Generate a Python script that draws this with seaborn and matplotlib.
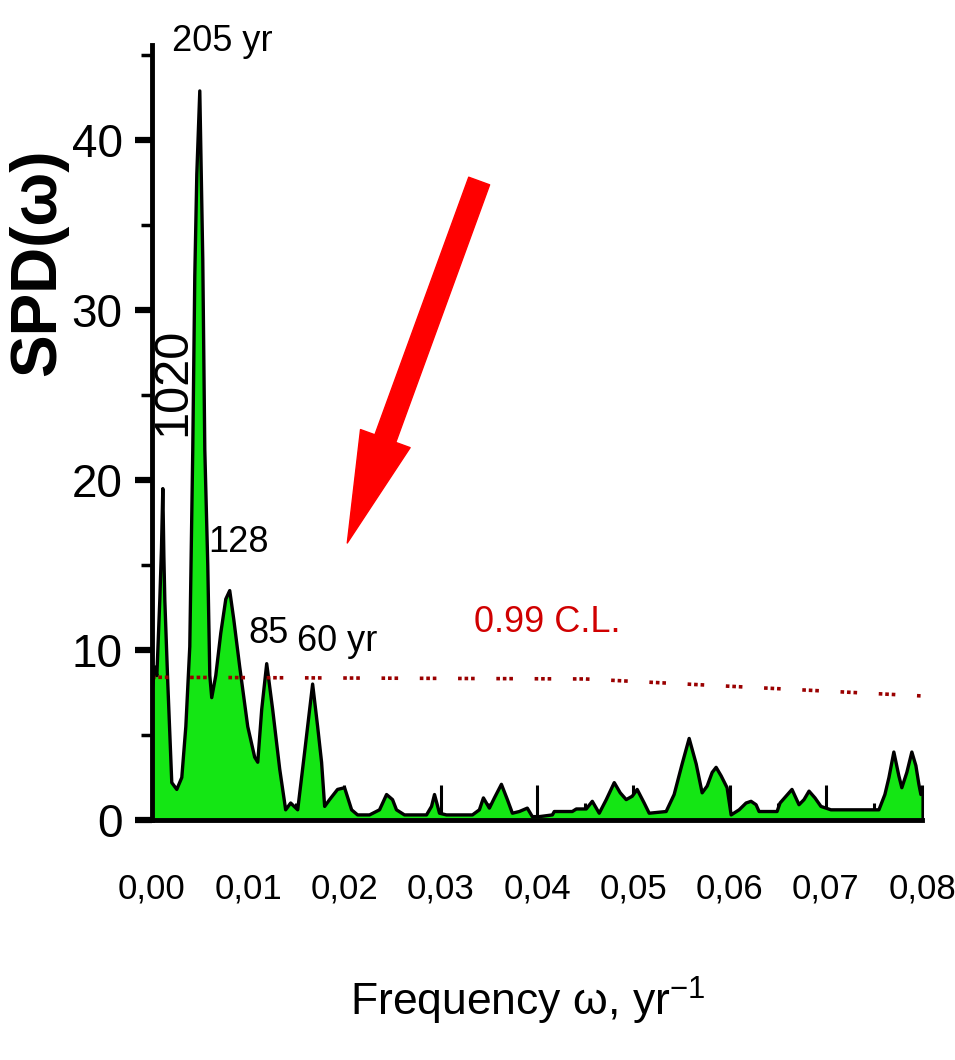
import numpy as np
import pandas as pd
import seaborn as sns
import matplotlib.pyplot as plt
from matplotlib.ticker import MultipleLocator, FuncFormatter

# spectral density
freq = [0.0, 0.00031, 0.00052, 0.00083, 0.00100, 0.00114, 0.00125, 0.00135, 0.00166, 0.00207,
        0.00259, 0.00311, 0.00353, 0.00394, 0.00425, 0.00446, 0.00467, 0.00498, 0.00529, 0.00550,
        0.00581, 0.00602, 0.00622, 0.00664, 0.00716, 0.00768, 0.00809, 0.00851, 0.00913, 0.00996,
        0.01068, 0.01100, 0.01141, 0.01193, 0.01255, 0.01328, 0.01390, 0.01442, 0.01515, 0.01587,
        0.01670, 0.01722, 0.01763, 0.01795, 0.01846, 0.01929, 0.02002, 0.02075, 0.02137, 0.02261,
        0.02365, 0.02438, 0.02500, 0.02541, 0.02624, 0.02853, 0.02905, 0.02936, 0.02988, 0.03060,
        0.03330, 0.03402, 0.03444, 0.03506, 0.03558, 0.03631, 0.03693, 0.03745, 0.03817, 0.03900,
        0.03952, 0.04025, 0.04160, 0.04180, 0.04367, 0.04409, 0.04512, 0.04575, 0.04647, 0.04720,
        0.04803, 0.04865, 0.04927, 0.04990, 0.05041, 0.05114, 0.05166, 0.05342, 0.05425, 0.05508,
        0.05581, 0.05654, 0.05716, 0.05768, 0.05820, 0.05861, 0.05913, 0.05975, 0.06017, 0.06100,
        0.06172, 0.06224, 0.06276, 0.06307, 0.06494, 0.06525, 0.06587, 0.06649, 0.06722, 0.06774,
        0.06826, 0.06888, 0.06950, 0.07054, 0.07417, 0.07552, 0.07614, 0.07656, 0.07707, 0.07759,
        0.07790, 0.07842, 0.07894, 0.07936, 0.07967, 0.07988]
spd = [7.5, 9.0, 8.5, 13.0, 16.0, 19.5, 15.5, 12.9, 8.0, 2.2,
       1.8, 2.5, 5.5, 10.2, 21.8, 32.0, 38.0, 42.9, 33.0, 21.8,
       15.0, 8.5, 7.2, 8.5, 11.0, 13.0, 13.5, 11.8, 9.0, 5.5,
       3.7, 3.4, 6.5, 9.2, 6.5, 3.0, 0.6, 1.0, 0.6, 4.0,
       8.0, 5.5, 3.4, 0.8, 1.2, 1.8, 1.9, 0.6, 0.3, 0.3,
       0.6, 1.5, 1.2, 0.6, 0.3, 0.3, 0.8, 1.5, 0.4, 0.3,
       0.3, 0.6, 1.3, 0.7, 1.3, 2.1, 1.2, 0.4, 0.5, 0.7,
       0.2, 0.2, 0.3, 0.5, 0.5, 0.65, 0.65, 1.1, 0.4, 1.2,
       2.2, 1.6, 1.2, 1.4, 1.8, 1.0, 0.4, 0.5, 1.5, 3.3,
       4.8, 3.3, 1.6, 2.0, 2.8, 3.1, 2.6, 1.9, 0.3, 0.6,
       1.0, 1.1, 0.9, 0.5, 0.5, 1.0, 1.4, 1.8, 0.9, 1.2,
       1.7, 1.3, 0.8, 0.6, 0.6, 0.6, 1.5, 2.5, 4.0, 2.6,
       1.9, 2.8, 4.0, 3.2, 2.1, 1.5]

# 0.99 confidence level
cl_freq = [0.0, 0.045, 0.08]
cl_level = [8.4, 8.3, 7.3]

# peak labels
peak_text = ['205 yr', '128', '85', '60 yr']
peak_x = [0.0073, 0.0090, 0.0121, 0.0192]
peak_y = [45.8, 16.3, 11.0, 10.5]

df = pd.DataFrame({'freq': freq, 'spd': spd})
cl = pd.DataFrame({'freq': cl_freq, 'level': cl_level})

sns.set_style('ticks')
plt.rcParams['font.family'] = ['Liberation Sans', 'DejaVu Sans']
plt.rcParams['mathtext.fontset'] = 'custom'
plt.rcParams['mathtext.rm'] = 'Liberation Sans'
for key in ['text.color', 'axes.labelcolor', 'xtick.color', 'ytick.color', 'axes.edgecolor']:
    plt.rcParams[key] = 'black'

fig = plt.figure(figsize=(9.55, 10.6), dpi=100)
ax = fig.add_axes([0.159, 0.2264, 0.8065, 0.7311])

ax.fill_between(df['freq'], df['spd'], color='#14e614', lw=0)
sns.lineplot(data=df, x='freq', y='spd', color='black', lw=2.4, ax=ax)
sns.lineplot(data=cl, x='freq', y='level', color='#9a0000', lw=2.6, ax=ax,
             linestyle=(0, (1.0, 0.8, 1.0, 0.8, 1.0, 6.0)))

ax.set_xlim(0, 0.08)
ax.set_ylim(0, 45.6)

ax.xaxis.set_major_locator(MultipleLocator(0.01))
ax.xaxis.set_minor_locator(MultipleLocator(0.005))
ax.yaxis.set_major_locator(MultipleLocator(10))
ax.yaxis.set_minor_locator(MultipleLocator(5))
ax.xaxis.set_major_formatter(FuncFormatter(lambda v, p: f'{v:.2f}'.replace('.', ',')))

ax.tick_params(axis='x', which='major', direction='in', length=25, width=2.2, labelsize=25, pad=38)
ax.tick_params(axis='x', which='minor', direction='in', length=12, width=2.2)
ax.tick_params(axis='y', which='major', direction='out', length=12, width=4.5, labelsize=33, pad=9)
ax.tick_params(axis='y', which='minor', direction='out', length=8, width=2.5)

sns.despine(ax=ax)
for side in ['left', 'bottom']:
    ax.spines[side].set_linewidth(3.5)

ax.set_xlabel(r'Frequency ω, yr$^{-1}$', fontsize=32)
ax.xaxis.set_label_coords(0.488, -0.2)
ax.set_ylabel('SPD(ω)', fontsize=46, fontweight='bold')
ax.yaxis.set_label_coords(-0.109, 0.72)

for t, x, y in zip(peak_text, peak_x, peak_y):
    ax.text(x, y, t, fontsize=26, ha='center', va='center', clip_on=False)
ax.text(0.0022, 25.8, '1020', fontsize=35, rotation=90, ha='center', va='center')
ax.text(0.0411, 11.6, '0.99 C.L.', fontsize=26, color='#d00000', ha='center', va='center')

ax.annotate('', xy=(0.0203, 16.3), xytext=(0.0340, 37.6),
            arrowprops=dict(arrowstyle='simple,head_length=4.0,head_width=1.9,tail_width=0.8',
                            color='red', mutation_scale=20, shrinkA=0, shrinkB=0))

fig.savefig('out.png', dpi=100, facecolor='white')
